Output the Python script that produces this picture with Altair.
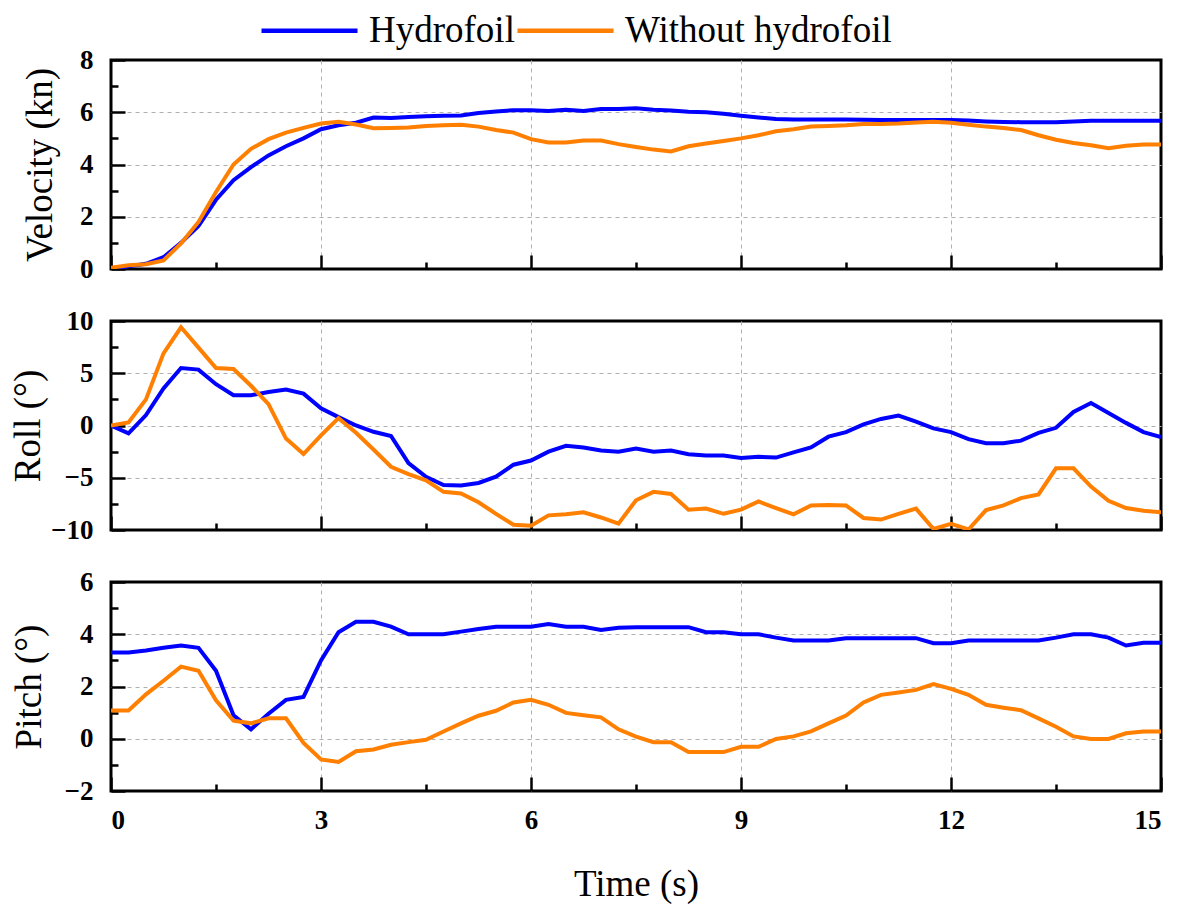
import altair as alt
import pandas as pd

N = 61
TIME = [i * 0.25 for i in range(N)]
SERIES = ["Hydrofoil", "Without hydrofoil"]
COLORS = ["#0000FF", "#FF7F00"]

VEL_HYD = [0.0, 0.1, 0.2, 0.45,
           1.0, 1.65, 2.65, 3.4,
           3.9, 4.35, 4.7, 5.0,
           5.35, 5.5, 5.6, 5.8,
           5.78, 5.82, 5.85, 5.87,
           5.88, 5.97, 6.03, 6.08,
           6.08, 6.05, 6.1, 6.05,
           6.12, 6.12, 6.15, 6.1,
           6.07, 6.02, 6.0, 5.94,
           5.87, 5.8, 5.74, 5.72,
           5.72, 5.72, 5.72, 5.71,
           5.7, 5.7, 5.7, 5.7,
           5.7, 5.68, 5.65, 5.63,
           5.62, 5.62, 5.62, 5.65,
           5.67, 5.67, 5.67, 5.67,
           5.67]
VEL_WO = [0.05, 0.14, 0.18, 0.33,
          0.98, 1.8, 2.95, 4.0,
          4.6, 4.97, 5.22, 5.4,
          5.57, 5.64, 5.53, 5.39,
          5.4, 5.42, 5.47, 5.5,
          5.52, 5.45, 5.32, 5.22,
          4.97, 4.84, 4.84, 4.92,
          4.92, 4.78, 4.67, 4.57,
          4.5, 4.7, 4.8, 4.9,
          5.0, 5.12, 5.27, 5.35,
          5.45, 5.47, 5.5, 5.55,
          5.55, 5.57, 5.61, 5.64,
          5.6, 5.52, 5.45, 5.4,
          5.32, 5.12, 4.95, 4.82,
          4.74, 4.62, 4.72, 4.77,
          4.77]
ROLL_HYD = [0.0, -0.75, 1.0, 3.55,
            5.5, 5.35, 3.95, 2.9,
            2.9, 3.2, 3.45, 3.05,
            1.65, 0.8, 0.0, -0.6,
            -1.0, -3.6, -4.9, -5.7,
            -5.75, -5.5, -4.9, -3.75,
            -3.35, -2.5, -1.95, -2.1,
            -2.4, -2.5, -2.2, -2.5,
            -2.4, -2.75, -2.88, -2.88,
            -3.1, -3.0, -3.07, -2.57,
            -2.1, -1.07, -0.63, 0.1,
            0.63, 0.95, 0.38, -0.28,
            -0.63, -1.3, -1.7, -1.7,
            -1.45, -0.7, -0.22, 1.3,
            2.15, 1.2, 0.25, -0.63,
            -1.1]
ROLL_WO = [0.0, 0.3, 2.5, 6.9,
           9.4, 7.45, 5.5, 5.4,
           3.8, 2.05, -1.25, -2.73,
           -0.95, 0.7, -0.7, -2.3,
           -3.95, -4.65, -5.25, -6.35,
           -6.5, -7.35, -8.45, -9.5,
           -9.6, -8.6, -8.5, -8.3,
           -8.8, -9.4, -7.15, -6.35,
           -6.55, -8.05, -7.95, -8.45,
           -8.05, -7.27, -7.9, -8.5,
           -7.65, -7.6, -7.65, -8.85,
           -9.0, -8.45, -7.95, -9.9,
           -9.4, -9.95, -8.1, -7.65,
           -6.95, -6.6, -4.1, -4.1,
           -5.85, -7.2, -7.9, -8.15,
           -8.3]
PITCH_HYD = [3.3, 3.3, 3.38, 3.48,
             3.57, 3.48, 2.6, 0.9,
             0.36, 0.96, 1.49, 1.6,
             3.0, 4.08, 4.48, 4.48,
             4.29, 4.0, 4.0, 4.0,
             4.1, 4.2, 4.29, 4.29,
             4.29, 4.39, 4.29, 4.29,
             4.16, 4.25, 4.27, 4.27,
             4.27, 4.27, 4.08, 4.08,
             4.0, 4.0, 3.87, 3.76,
             3.76, 3.76, 3.85, 3.85,
             3.85, 3.85, 3.85, 3.66,
             3.66, 3.76, 3.76, 3.76,
             3.76, 3.76, 3.87, 4.0,
             4.0, 3.87, 3.57, 3.67,
             3.67]
PITCH_WO = [1.08, 1.08, 1.7, 2.22,
            2.76, 2.6, 1.47, 0.69,
            0.59, 0.78, 0.78, -0.16,
            -0.79, -0.89, -0.48, -0.41,
            -0.23, -0.13, -0.04, 0.28,
            0.59, 0.88, 1.07, 1.39,
            1.49, 1.3, 0.99, 0.9,
            0.82, 0.36, 0.08, -0.13,
            -0.13, -0.51, -0.51, -0.51,
            -0.31, -0.31, -0.01, 0.09,
            0.28, 0.59, 0.89, 1.39,
            1.68, 1.77, 1.87, 2.09,
            1.91, 1.68, 1.3, 1.19,
            1.09, 0.78, 0.46, 0.09,
            -0.01, -0.01, 0.21, 0.28,
            0.28]

X_DOMAIN = [0, 15]
X_MAJOR = [0, 3, 6, 9, 12, 15]
X_MINOR = [1.5, 4.5, 7.5, 10.5, 13.5]

PANELS = [
    ("Velocity (kn)", VEL_HYD, VEL_WO, [0, 8], [0, 2, 4, 6, 8], [1, 3, 5, 7], 20),
    ("Roll (°)", ROLL_HYD, ROLL_WO, [-10, 10], [-10, -5, 0, 5, 10], [-7.5, -2.5, 2.5, 7.5], 3),
    ("Pitch (°)", PITCH_HYD, PITCH_WO, [-2, 6], [-2, 0, 2, 4, 6], [-1, 1, 3, 5], 16),
]

FONT = "Liberation Serif"

LEGEND = alt.Legend(orient="none", legendX=212, legendY=-52, direction="horizontal",
                    symbolType="M-4.2,0H0.6", symbolSize=1600, symbolStrokeWidth=4.5,
                    labelFont=FONT, labelFontSize=37, labelOffset=1, columnPadding=-7,
                    labelLimit=600, labelColor="black", padding=0)


def edge_hidden(dom):
    test = f"datum.value <= {dom[0]} || datum.value >= {dom[1]}"
    return {"condition": {"test": test, "value": 0}, "value": 1}


def make_panel(name, hyd, wo, dom, major, minor, tpad, is_last):
    df = pd.DataFrame({"t": TIME * 2, "v": hyd + wo,
                       "s": [SERIES[0]] * N + [SERIES[1]] * N})
    xscale = alt.Scale(domain=X_DOMAIN, nice=False, zero=False)
    yscale = alt.Scale(domain=dom, nice=False, zero=False)
    xkw = dict(values=X_MAJOR, orient="bottom", offset=-14, tickSize=14, grid=True,
               gridOpacity=edge_hidden(X_DOMAIN),
               labels=is_last, labelPadding=16, titlePadding=33)
    if is_last:
        xmain = alt.X("t:Q", scale=xscale, axis=alt.Axis(**xkw), title="Time (s)")
    else:
        xmain = alt.X("t:Q", scale=xscale, axis=alt.Axis(**xkw), title=None)
    line = alt.Chart(df).mark_line(strokeWidth=4, clip=True).encode(
        x=xmain,
        y=alt.Y("v:Q", scale=yscale, title=name,
                axis=alt.Axis(values=major, orient="left", offset=-14, tickSize=14,
                              grid=True, gridOpacity=edge_hidden(dom),
                              labelPadding=18, titlePadding=tpad)),
        color=alt.Color("s:N", scale=alt.Scale(domain=SERIES, range=COLORS),
                        legend=LEGEND, title=None),
    )
    minor_layer = alt.Chart(df).mark_line(opacity=0).encode(
        x=alt.X("t:Q", scale=xscale, title=None,
                axis=alt.Axis(values=X_MINOR, orient="bottom", offset=-7, tickSize=7,
                              grid=False, labels=False)),
        y=alt.Y("v:Q", scale=yscale, title=None,
                axis=alt.Axis(values=minor, orient="left", offset=-7, tickSize=7,
                              grid=False, labels=False)),
        detail="s:N",
    )
    return alt.layer(line, minor_layer).resolve_axis(
        x="independent", y="independent").properties(width=1050, height=209)


panels = [make_panel(*p, is_last=(i == len(PANELS) - 1)) for i, p in enumerate(PANELS)]

chart = alt.vconcat(*panels, spacing=52, bounds="flush").properties(
    padding={"left": 0, "top": 0, "right": 5, "bottom": 5}
).configure_view(
    stroke="black", strokeWidth=3
).configure_axis(
    domain=False,
    tickColor="black", tickWidth=2.5,
    gridColor="#b0b0b0", gridDash=[4, 4], gridWidth=1,
    labelFont=FONT, labelFontSize=27, labelFontWeight="bold", labelColor="black",
    titleFont=FONT, titleFontSize=37, titleFontWeight="normal", titleColor="black",
)

chart.save("out.html", embed_options={"renderer": "svg", "actions": False})
